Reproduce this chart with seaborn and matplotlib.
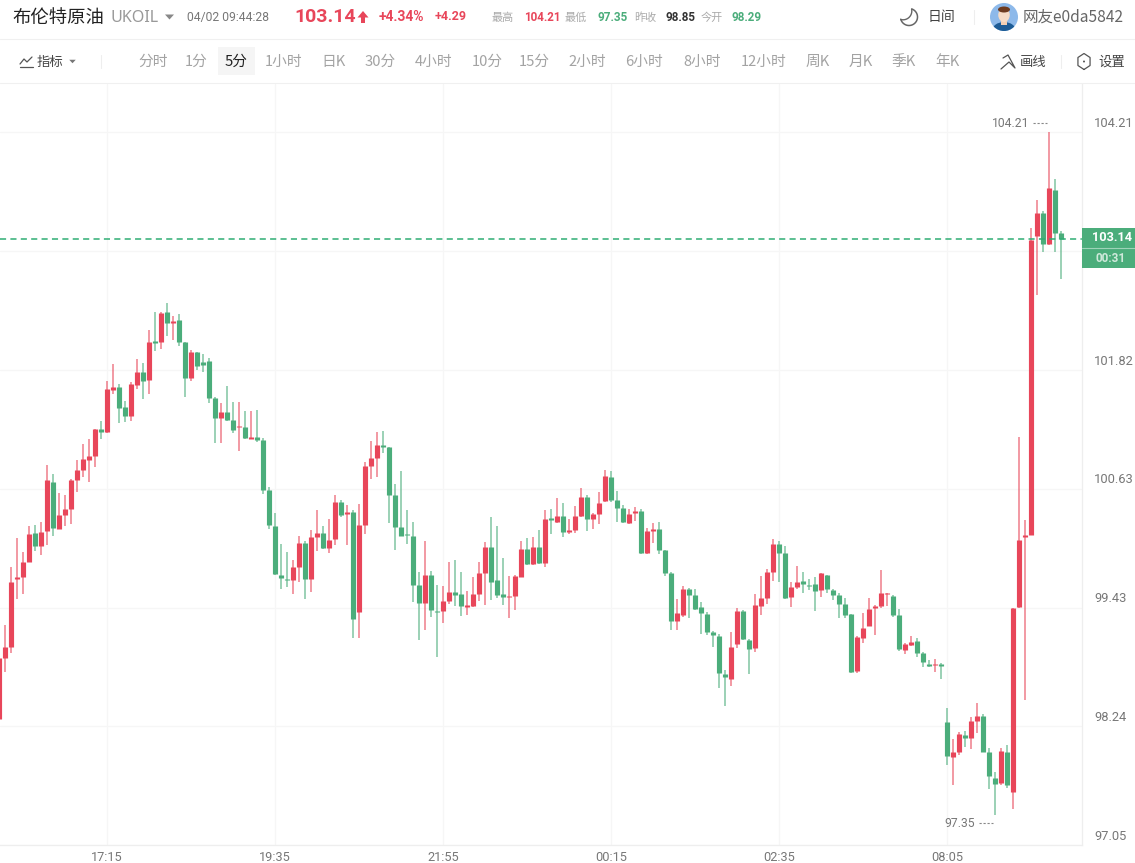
import numpy as np
import pandas as pd
import matplotlib
matplotlib.use("Agg")
import matplotlib.pyplot as plt
from matplotlib.patches import Rectangle, Circle, Ellipse, Polygon
from matplotlib.transforms import ScaledTranslation
import seaborn as sns

# ---- data (5-minute candles of UKOIL) ----
opens = [98.32,98.93,99.04,99.72,99.74,99.89,100.18,100.05,100.20,100.70,
 100.22,100.36,100.42,100.72,100.82,100.92,100.96,101.23,101.20,101.62,
 101.65,101.45,101.36,101.67,101.80,101.72,102.11,102.10,102.40,102.29,
 102.32,102.10,101.74,102.00,101.90,101.91,101.54,101.34,101.40,101.32,
 101.25,101.25,101.13,101.15,101.12,100.61,100.25,99.76,99.72,99.71,
 99.84,100.08,99.72,100.14,100.18,100.03,100.12,100.49,100.37,100.39,
 99.39,100.26,100.86,100.94,101.07,101.05,100.56,100.24,100.17,100.15,
 99.66,99.48,99.76,99.40,99.40,99.50,99.59,99.57,99.44,99.45,
 99.57,99.78,100.04,99.71,99.57,99.54,99.55,99.74,100.02,99.87,
 100.04,99.88,100.33,100.29,100.35,100.19,100.21,100.35,100.54,100.32,
 100.37,100.50,100.75,100.51,100.43,100.28,100.38,100.40,99.98,100.20,
 100.22,100.01,99.78,99.30,99.36,99.62,99.56,99.44,99.37,99.19,
 99.15,98.77,98.72,99.07,99.40,99.11,99.03,99.45,99.53,99.79,
 100.07,99.98,99.54,99.64,99.70,99.66,99.67,99.61,99.76,99.61,
 99.56,99.47,99.37,98.80,99.13,99.25,99.43,99.45,99.57,99.55,
 99.36,99.01,99.06,99.10,98.98,98.87,98.86,98.87,98.29,97.93,
 97.98,98.15,98.12,98.30,98.35,97.98,97.72,97.67,97.98,97.58,
 99.44,100.14,100.16,103.17,103.40,103.09,103.63,103.20]
highs = [98.93,99.26,99.84,100.13,99.99,100.25,100.26,100.29,100.87,100.78,
 100.58,100.56,100.73,100.92,101.08,101.13,101.23,101.31,101.71,101.88,
 101.68,101.51,101.70,101.93,101.89,102.22,102.40,102.40,102.49,102.36,
 102.38,102.10,102.02,102.00,101.98,101.94,101.55,101.49,101.66,101.50,
 101.50,101.41,101.41,101.42,101.14,100.65,100.38,100.07,99.99,99.91,
 100.15,100.10,100.21,100.41,100.25,100.32,100.56,100.51,100.46,100.41,
 100.47,100.90,101.11,101.20,101.21,101.05,100.68,100.81,100.41,100.29,
 99.79,100.10,99.80,99.66,99.65,99.89,99.91,99.79,99.60,99.74,
 99.89,100.09,100.34,100.25,99.93,99.75,99.76,100.10,100.13,100.14,
 100.21,100.41,100.42,100.53,100.48,100.32,100.45,100.64,100.56,100.38,
 100.59,100.82,100.81,100.60,100.46,100.42,100.44,100.42,100.23,100.28,
 100.29,100.01,99.79,99.52,99.65,99.63,99.62,99.49,99.39,99.20,
 99.17,98.81,99.19,99.43,99.41,99.12,99.57,99.75,99.82,100.12,
 100.10,100.05,99.69,99.85,99.79,99.72,99.74,99.78,99.76,99.62,
 99.58,99.53,99.37,99.15,99.38,99.53,99.46,99.81,99.58,99.56,
 99.42,99.08,99.15,99.13,98.99,98.91,98.92,98.88,98.43,98.11,
 98.18,98.19,98.34,98.48,98.37,98.02,97.78,98.02,98.05,99.43,
 101.15,100.31,103.25,103.53,103.42,104.21,103.74,103.22]
lows = [98.32,98.79,98.98,99.52,99.57,99.89,100.00,99.96,100.06,100.15,
 100.22,100.25,100.27,100.59,100.75,100.70,100.85,101.13,101.19,101.58,
 101.29,101.30,101.31,101.63,101.53,101.58,102.01,102.03,102.16,102.12,
 102.06,101.55,101.71,101.82,101.80,101.49,101.09,101.09,101.31,101.19,
 101.01,101.13,101.13,101.10,100.57,100.22,99.76,99.62,99.64,99.57,
 99.69,99.52,99.59,100.00,100.02,99.98,100.06,100.34,100.06,99.13,
 99.13,100.17,100.73,100.75,100.99,100.28,100.01,100.15,100.07,99.49,
 99.11,99.21,99.34,98.94,99.28,99.47,99.45,99.35,99.36,99.44,
 99.50,99.46,99.51,99.53,99.46,99.33,99.41,99.74,99.86,99.86,
 99.87,99.84,100.17,100.28,100.14,100.17,100.18,100.34,100.20,100.22,
 100.27,100.49,100.49,100.29,100.28,100.27,100.30,99.97,99.97,100.08,
 99.97,99.75,99.21,99.21,99.34,99.33,99.41,99.17,99.16,99.04,
 98.63,98.45,98.65,99.03,99.11,98.77,98.99,99.36,99.47,99.70,
 99.69,99.52,99.44,99.62,99.58,99.61,99.40,99.54,99.58,99.51,
 99.33,99.33,98.78,98.78,99.08,99.25,99.16,99.43,99.45,99.34,
 99.00,98.97,99.05,98.94,98.84,98.84,98.79,98.72,97.85,97.65,
 97.95,98.03,98.01,98.17,97.98,97.61,97.35,97.65,97.62,97.41,
 99.43,98.51,100.16,102.57,103.00,103.08,103.00,102.73]
closes = [98.93,99.04,99.69,99.74,99.89,100.17,100.05,100.19,100.72,100.23,
 100.36,100.42,100.72,100.82,100.93,100.96,101.23,101.20,101.63,101.65,
 101.44,101.36,101.68,101.80,101.71,102.10,102.09,102.39,102.29,102.31,
 102.10,101.74,102.00,101.86,101.87,101.54,101.34,101.40,101.32,101.22,
 101.26,101.14,101.15,101.12,100.61,100.26,99.77,99.73,99.71,99.84,
 100.08,99.72,100.14,100.18,100.03,100.11,100.49,100.36,100.39,99.32,
 100.26,100.86,100.94,101.07,101.05,100.56,100.24,100.15,100.16,99.66,
 99.48,99.76,99.41,99.39,99.50,99.59,99.56,99.45,99.46,99.57,
 99.78,100.04,99.69,99.56,99.54,99.55,99.75,100.02,99.87,100.04,
 99.88,100.32,100.31,100.35,100.19,100.21,100.35,100.54,100.32,100.37,
 100.48,100.76,100.51,100.43,100.29,100.37,100.40,99.98,100.20,100.22,
 100.01,99.78,99.30,99.38,99.62,99.56,99.42,99.38,99.19,99.16,
 98.78,98.74,99.04,99.40,99.12,99.02,99.46,99.53,99.79,100.07,
 99.98,99.53,99.64,99.69,99.67,99.65,99.60,99.78,99.62,99.56,
 99.47,99.36,98.79,99.14,99.23,99.42,99.45,99.58,99.58,99.36,
 99.02,99.07,99.09,98.98,98.89,98.85,98.87,98.85,97.94,97.98,
 98.16,98.12,98.30,98.35,97.98,97.74,97.66,97.99,97.65,99.43,
 100.11,100.16,103.13,103.40,103.09,103.65,103.20,103.14]

price_ticks = [97.05, 98.24, 99.43, 100.63, 101.82, 103.02, 104.21]
price_labels = ["97.05", "98.24", "99.43", "100.63", "101.82", "", "104.21"]
time_labels = ["17:15", "19:35", "21:55", "00:15", "02:35", "08:05"]
time_positions = [18, 46, 74, 102, 130, 158]
last_price = 103.14
tabs = ["分时","1分","5分","1小时","日K","30分","4小时","10分","15分","2小时",
        "6小时","8小时","12小时","周K","月K","季K","年K"]

RED, GREEN = "#e8465a", "#4bad7b"
CJK = ["Noto Sans CJK SC", "DejaVu Sans"]
NUM = ["Roboto", "DejaVu Sans"]

sns.set_theme(style="white")
plt.rcParams["font.family"] = CJK

idx = np.arange(len(opens))
df = pd.DataFrame({"i": idx, "o": opens, "h": highs, "l": lows, "c": closes})
df["dir"] = np.where(df.c >= df.o, "up", "down")
wicks = df.melt(id_vars=["i", "dir"], value_vars=["h", "l"], value_name="price")
bodies = df.melt(id_vars=["i", "dir"], value_vars=["o", "c"], value_name="price")
pal = {"up": RED, "down": GREEN}

W, H = 1135, 863
fig = plt.figure(figsize=(W/100, H/100), dpi=100, facecolor="white")
ax = fig.add_axes([0, (H-845)/H, 1082/W, (845-84)/H])

sns.lineplot(data=wicks, x="i", y="price", hue="dir", units="i", estimator=None,
             palette=pal, legend=False, lw=1.1, alpha=0.7, ax=ax, solid_capstyle="butt")
sns.lineplot(data=bodies, x="i", y="price", hue="dir", units="i", estimator=None,
             palette=pal, legend=False, lw=3.7, ax=ax, solid_capstyle="butt")

ax.set_xlim(1/6, 1083/6)
ax.set_ylim(97.05, 97.05 + 761/99.58)
ax.axhline(last_price, color="#2fae74", lw=1.1, dashes=(4, 2.8))
ax.set_xticks(time_positions, time_labels)
ax.set_yticks(price_ticks, price_labels)
ax.yaxis.tick_right()
ax.set_xlabel(""); ax.set_ylabel("")
ax.grid(True, color="#f6f6f6", lw=0.9)
ax.set_axisbelow(True)
ax.tick_params(axis="x", length=0, pad=4, labelsize=9.2, labelcolor="#777777")
ax.tick_params(axis="y", length=0, pad=8.6, labelsize=9.3, labelcolor="#777777")
for t in ax.get_xticklabels() + ax.get_yticklabels():
    t.set_fontfamily(NUM)
off = ScaledTranslation(0, 1.8/72, fig.dpi_scale_trans)
for t in ax.get_yticklabels():
    t.set_verticalalignment("bottom")
    t.set_transform(t.get_transform() + off)
for s in ["left", "top"]:
    ax.spines[s].set_visible(False)
for s in ["right", "bottom"]:
    ax.spines[s].set_color("#eeeeee"); ax.spines[s].set_linewidth(0.9)

# ---- overlay in screen pixels for the page chrome ----
ui = fig.add_axes([0, 0, 1, 1], facecolor="none")
ui.set_xlim(0, W); ui.set_ylim(H, 0); ui.axis("off")

def T(x, y, s, size=10, color="#444444", fam=CJK, ha="left", weight="normal", **kw):
    ui.text(x, y, s, fontsize=size, color=color, family=fam, ha=ha, va="center",
            weight=weight, **kw)

def L(xs, ys, color="#666666", lw=0.9, **kw):
    ui.plot(xs, ys, color=color, lw=lw, solid_capstyle="round", **kw)

def tri(cx, cy, w, h, color="#888888"):
    ui.add_patch(Polygon([(cx-w/2, cy-h/2), (cx+w/2, cy-h/2), (cx, cy+h/2)], color=color, lw=0))

# separators
for yy in (39.5, 83.5):
    ui.plot([0, W], [yy, yy], color="#f0f0f0", lw=0.8)
for xx, y0, y1 in ((101, 55, 68), (974, 10, 24), (1061, 55, 68)):
    ui.plot([xx, xx], [y0, y1], color="#eeeeee", lw=0.8)

# first row
T(12, 17.5, "布伦特原油", 13.2, "#222222")
T(111, 18, "UKOIL", 11.6, "#999999", fam=["Noto Sans", "DejaVu Sans"])
tri(169.5, 17, 9, 5)
T(187, 18, "04/02 09:44:28", 8.7, "#777777", fam=NUM)
T(294, 17, "103.14", 14, RED, fam=NUM, weight="bold")
ui.add_patch(Polygon([(363, 11), (368.5, 17.5), (365, 17.5), (365, 23), (361, 23),
                      (361, 17.5), (357.5, 17.5)], color=RED, lw=0))
T(379, 17, "+4.34%", 10, RED, fam=NUM, weight="bold")
T(435, 17, "+4.29", 9, RED, fam=NUM, weight="bold")
T(492, 18, "最高", 8, "#aaaaaa")
T(524, 17.5, "104.21", 8.4, RED, fam=NUM, weight="bold")
T(565, 18, "最低", 8, "#aaaaaa")
T(598, 17.5, "97.35", 8.4, GREEN, fam=NUM, weight="bold")
T(634, 18, "昨收", 8, "#aaaaaa")
T(665, 17.5, "98.85", 8.4, "#333333", fam=NUM, weight="bold")
T(701, 18, "今开", 8, "#aaaaaa")
T(732, 17.5, "98.29", 8.4, GREEN, fam=NUM, weight="bold")

# moon
a = np.radians(np.linspace(70, -165, 60))
L(909 + 8.5*np.cos(a), 17 - 8.5*np.sin(a), lw=1.1, color="#666666")
b = np.radians(np.linspace(13, -105, 30))
L(903 + 8.8*np.cos(b), 11 - 8.8*np.sin(b), lw=1.0, color="#666666")
T(928, 17.5, "日间", 10, "#444444")

# avatar
clip = Circle((1004, 17), 14, color="#8db9ea", lw=0)
ui.add_patch(clip)
body = Ellipse((1004, 31), 24, 18, color="#1d5c96", lw=0); ui.add_patch(body); body.set_clip_path(clip)
ui.add_patch(Rectangle((1001, 19), 6, 6, color="#f3cfb4", lw=0))
ui.add_patch(Ellipse((1004, 15), 11.5, 14, color="#f7dcc6", lw=0))
ui.add_patch(Ellipse((1004, 9.5), 12, 6, color="#6e3b1f", lw=0))
T(1023, 17.5, "网友e0da5842", 11.2, "#666666", fam=["Noto Sans CJK SC", "Noto Sans"])

# second row
L([20, 24, 27, 32], [64, 59, 62, 57], color="#555555")
L([20, 33], [67.5, 67.5], color="#555555")
T(37, 62, "指标", 9.6, "#444444")
tri(72.5, 61.5, 6.5, 3.5, "#777777")
ui.add_patch(Rectangle((218, 47), 37, 28, color="#f5f5f5", lw=0))
tab_x = [153, 196, 236.5, 284, 333, 380, 434, 487, 534, 587, 644, 702, 764, 818, 861, 904, 947]
for s, xx in zip(tabs, tab_x):
    sel = s == "5分"
    T(xx, 62, s, 10.6, "#222222" if sel else "#a3a3a3", ha="center",
      fam=["Noto Sans CJK SC"])
L([1001, 1009, 1015, 1008, 1003], [69, 62, 68, 55, 58], color="#555555")
T(1020, 62, "画线", 9.6, "#444444")
hx = [1084 + 7*np.sin(t) for t in np.radians(np.arange(0, 361, 60))]
hy = [61.5 + 8*np.cos(t) for t in np.radians(np.arange(0, 361, 60))]
L(hx, hy, color="#555555")
ui.add_patch(Circle((1084, 61.5), 1, color="#555555", lw=0))
T(1098, 62, "设置", 9.6, "#444444")

# price tag
ui.add_patch(Rectangle((1082, 228), 53, 40, color=GREEN, lw=0))
ui.plot([1082, 1135], [248, 248], color="#9ed3b8", lw=0.8)
T(1112, 237.5, "103.14", 9.2, "white", fam=NUM, ha="center", weight="bold")
T(1111, 258, "00:31", 8.5, "#cfe9db", fam=NUM, ha="center", weight="bold")

# high / low markers
T(992, 123.5, "104.21", 8.7, "#777777", fam=NUM)
ui.plot([1033, 1047], [123.5, 123.5], color="#888888", lw=0.8, dashes=(2, 1.6))
T(944, 823, "97.35", 8.7, "#777777", fam=NUM)
ui.plot([979, 993], [823, 823], color="#888888", lw=0.8, dashes=(2, 1.6))

fig.savefig("out.png", dpi=100, facecolor="white")
